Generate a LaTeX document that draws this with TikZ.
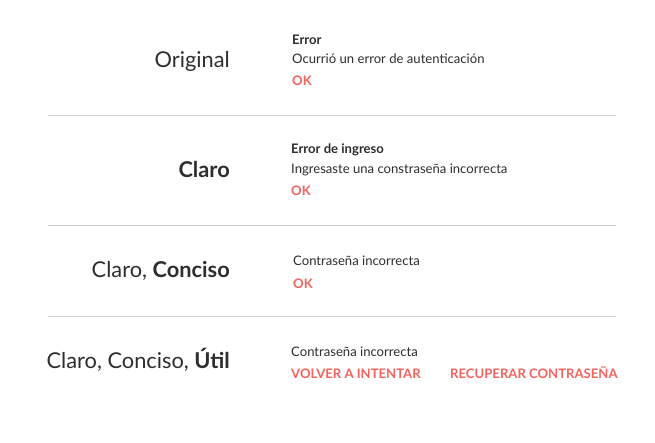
\documentclass[tikz,border=0pt]{standalone}
\usepackage{fontspec}
\setmainfont{Lato}
\definecolor{ink}{HTML}{2E2E2E}
\definecolor{accent}{HTML}{F4645E}
\definecolor{rule}{HTML}{D0D0D0}
\begin{document}
\begin{tikzpicture}[x=1pt,y=-1pt,
  big/.style={anchor=base east,inner sep=0pt,text=ink,font=\fontsize{21.8}{26}\selectfont},
  small/.style={anchor=base west,inner sep=0pt,text=ink,font=\fontsize{13.1}{16}\selectfont},
  head/.style={small,font=\fontsize{13.1}{16}\selectfont\bfseries},
  act/.style={anchor=base west,inner sep=0pt,text=accent,font=\fontsize{13.1}{16}\selectfont\bfseries},
  sep/.style={draw=rule,line width=1pt}]
\useasboundingbox[fill=white] (0,0) rectangle (655,443);
% left labels
\node[big] (l1) at (230,68) {Original};
\node[big] (l2) at (230,178) {\bfseries Claro};
\node[big] (l3) at (230,278) {Claro, \textbf{Conciso}};
\node[big] (l4) at (230,368) {Claro, Conciso, \textbf{Útil}};
% section 1
\node[head] (t1) at (292,45) {Error};
\node[small] (m1) at (292,64) {Ocurrió un error de autenticación};
\node[act] (b1) at (292,86) {OK};
% section 2
\node[head] (t2) at (291,154) {Error de ingreso};
\node[small] (m2) at (291,174) {Ingresaste una constraseña incorrecta};
\node[act] (b2) at (291,196) {OK};
% section 3
\node[small] (m3) at (293,266) {Contraseña incorrecta};
\node[act] (b3) at (293,288) {OK};
% section 4
\node[small] (m4) at (291,356) {Contraseña incorrecta};
\node[act] (b4) at (291,378) {VOLVER A INTENTAR};
\node[act] (b5) at (450,378) {RECUPERAR CONTRASEÑA};
% separators
\coordinate (s1a) at (48,115.5); \coordinate (s1b) at (616,115.5);
\coordinate (s2a) at (48,225.5); \coordinate (s2b) at (616,225.5);
\coordinate (s3a) at (48,316); \coordinate (s3b) at (616,316);
\draw[sep] (s1a) -- (s1b);
\draw[sep] (s2a) -- (s2b);
\draw[sep] (s3a) -- (s3b);
\end{tikzpicture}
\end{document}
